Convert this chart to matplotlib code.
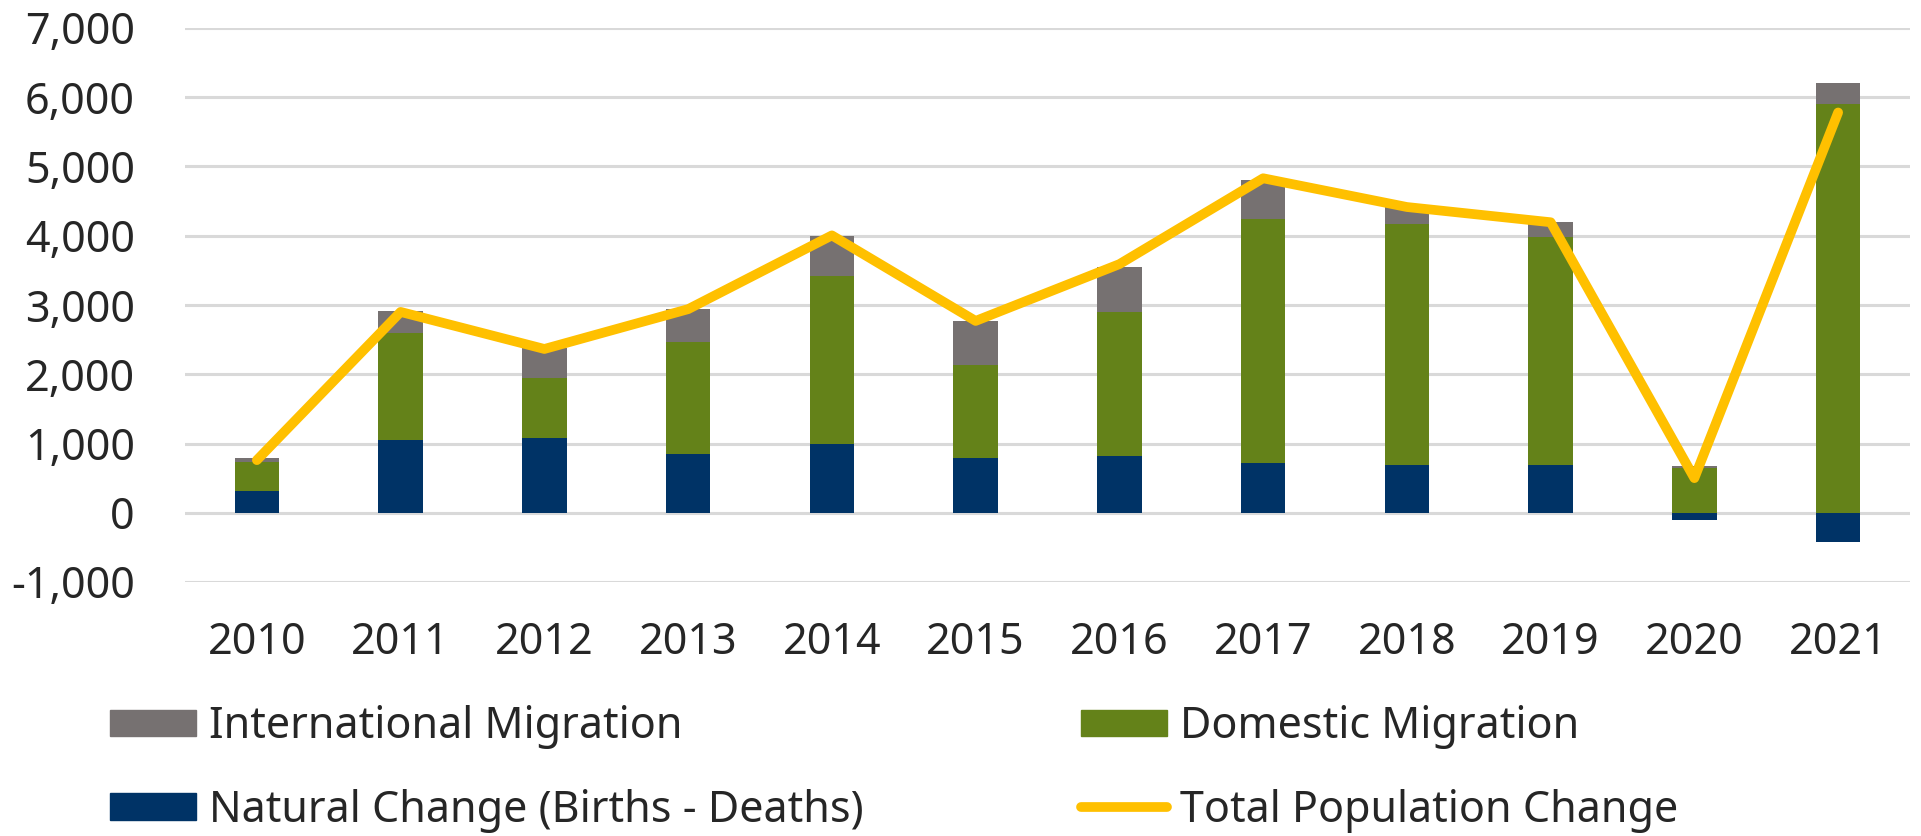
import matplotlib
matplotlib.use('Agg')
import numpy as np
import matplotlib.pyplot as plt
from matplotlib.patches import Patch
from matplotlib.lines import Line2D

years = ['2010', '2011', '2012', '2013', '2014', '2015', '2016', '2017', '2018', '2019', '2020', '2021']
natural = [315, 1050, 1085, 855, 990, 790, 820, 725, 690, 690, -110, -420]
domestic = [420, 1545, 865, 1615, 2435, 1340, 2085, 3510, 3475, 3285, 640, 5900]
international = [60, 315, 425, 475, 575, 635, 640, 570, 250, 225, 35, 300]
total = [760, 2900, 2365, 2940, 4005, 2770, 3590, 4830, 4415, 4195, 500, 5780]
y_ticks = [-1000, 0, 1000, 2000, 3000, 4000, 5000, 6000, 7000]

c_intl = '#767171'
c_dom = '#648219'
c_nat = '#003366'
c_total = '#FFC000'
txt = '#262626'

plt.rcParams['font.family'] = ['Noto Sans', 'DejaVu Sans']
fs = 31

fig = plt.figure(figsize=(19.21, 8.36), dpi=100)
ax = fig.add_axes([185 / 1921, 1 - 582 / 836, (1910 - 185) / 1921, (582 - 28) / 836])

x = np.arange(len(years))
nat = np.array(natural)
dom = np.array(domestic)
intl = np.array(international)
base = np.clip(nat, 0, None)
w = 0.31

# stacked bars: positives stack above zero, negative natural change hangs below
ax.bar(x, nat, w, color=c_nat, zorder=2)
ax.bar(x, dom, w, bottom=base, color=c_dom, zorder=2)
ax.bar(x, intl, w, bottom=base + dom, color=c_intl, zorder=2)
ax.plot(x, total, color=c_total, lw=7, solid_joinstyle='round', solid_capstyle='round', zorder=3)

ax.set_xlim(-0.5, len(years) - 0.5)
ax.set_ylim(-1000, 7000)
ax.set_yticks(y_ticks)
ax.set_yticklabels(['{:,}'.format(v) for v in y_ticks])
ax.set_xticks(x)
ax.set_xticklabels(years)
ax.grid(axis='y', color='#D9D9D9', lw=2.2, zorder=0)
ax.set_axisbelow(True)
for s in ax.spines.values():
    s.set_visible(False)
ax.tick_params(axis='y', length=0, pad=36, labelsize=fs, labelcolor=txt)
ax.tick_params(axis='x', length=0, pad=28, labelsize=fs, labelcolor=txt)

# legend split in two columns placed like the original
h_intl = Patch(color=c_intl)
h_dom = Patch(color=c_dom)
h_nat = Patch(color=c_nat)
h_tot = Line2D([0], [0], color=c_total, lw=7, solid_capstyle='round')
kw = dict(frameon=False, fontsize=fs, handlelength=2.0, handleheight=0.56, handletextpad=0.3,
          labelspacing=0.92, borderpad=0, borderaxespad=0, loc='upper left', labelcolor=txt)
leg1 = fig.legend([h_intl, h_nat], ['International Migration', 'Natural Change (Births - Deaths)'],
                  bbox_to_anchor=(110 / 1921, 1 - 705 / 836), **kw)
leg2 = fig.legend([h_dom, h_tot], ['Domestic Migration', 'Total Population Change'],
                  bbox_to_anchor=(1081 / 1921, 1 - 705 / 836), **kw)

fig.savefig('out.png', dpi=100)
